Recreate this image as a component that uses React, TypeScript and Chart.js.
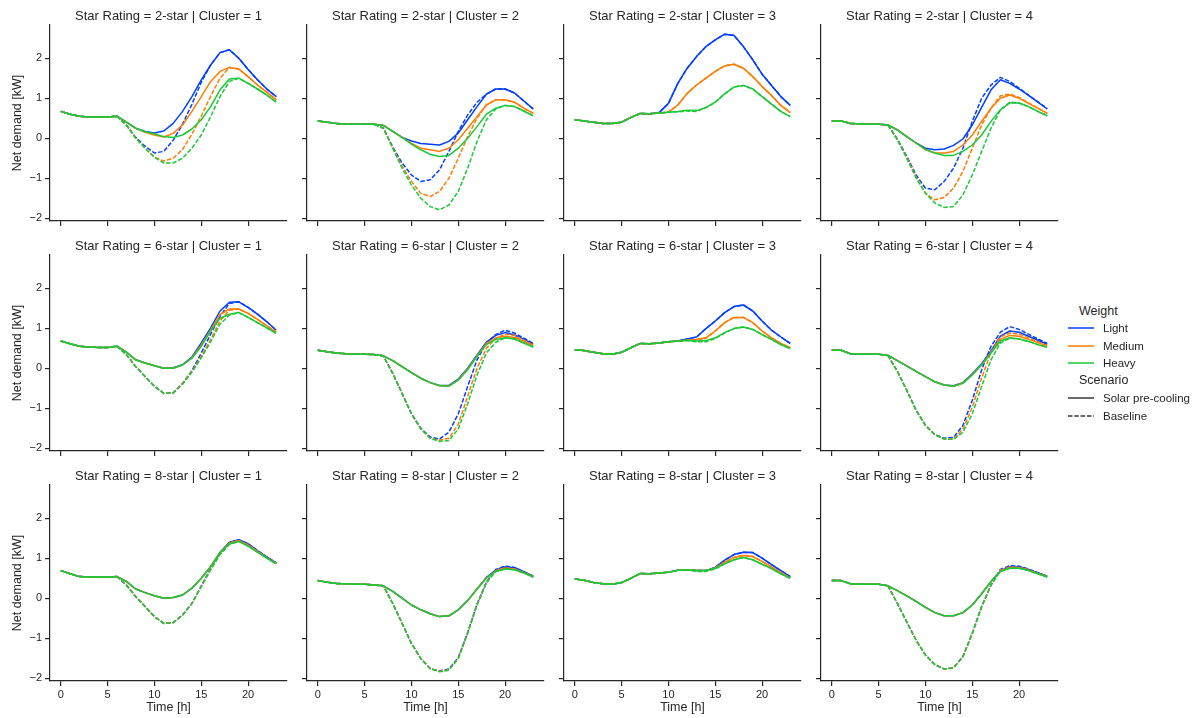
import React, { useEffect, useRef } from 'react';
import { Chart, registerables } from 'chart.js';

Chart.register(...registerables);

const FONT = "'Liberation Sans', Arial, Helvetica, sans-serif";
const TEXT = '#262626';
const AXIS = '#262626';

// ---------- data ----------
const hours = [0, 1, 2, 3, 4, 5, 6, 7, 8, 9, 10, 11, 12, 13, 14, 15, 16, 17, 18, 19, 20, 21, 22, 23];
const xTicks = [0, 5, 10, 15, 20];
const yTicks = [-2, -1, 0, 1, 2];
const weights = ['Light', 'Medium', 'Heavy'];
const weightColors = ['#023eff', '#ff7c00', '#1ac938'];
const scenarios = ['Solar pre-cooling', 'Baseline'];
const starRatings = ['2-star', '6-star', '8-star'];
const clusters = [1, 2, 3, 4];

// 2-star, cluster 1
const s2c1LightSolar = [0.67, 0.60, 0.55, 0.53, 0.53, 0.53, 0.55, 0.40, 0.25, 0.17, 0.13, 0.18, 0.37, 0.67, 1.04, 1.46, 1.83, 2.14, 2.21, 2.00, 1.72, 1.46, 1.23, 1.04];
const s2c1MediumSolar = [0.67, 0.60, 0.55, 0.53, 0.53, 0.53, 0.55, 0.40, 0.25, 0.15, 0.08, 0.03, 0.12, 0.33, 0.67, 1.04, 1.42, 1.67, 1.77, 1.73, 1.54, 1.33, 1.15, 0.96];
const s2c1HeavySolar = [0.67, 0.60, 0.55, 0.53, 0.53, 0.53, 0.55, 0.40, 0.25, 0.16, 0.11, 0.04, 0.02, 0.08, 0.23, 0.46, 0.79, 1.21, 1.48, 1.50, 1.37, 1.23, 1.08, 0.90];
const s2c1LightBase = [0.67, 0.60, 0.55, 0.53, 0.53, 0.53, 0.55, 0.33, 0.02, -0.20, -0.37, -0.33, -0.05, 0.35, 0.85, 1.40, 1.83, 2.14, 2.21, 2.00, 1.72, 1.46, 1.23, 1.04];
const s2c1MediumBase = [0.67, 0.60, 0.55, 0.53, 0.53, 0.53, 0.55, 0.33, 0.00, -0.25, -0.47, -0.57, -0.50, -0.28, 0.10, 0.55, 1.05, 1.50, 1.77, 1.73, 1.54, 1.33, 1.15, 0.96];
const s2c1HeavyBase = [0.67, 0.60, 0.55, 0.53, 0.53, 0.53, 0.55, 0.33, 0.00, -0.25, -0.48, -0.62, -0.62, -0.50, -0.25, 0.08, 0.54, 1.04, 1.42, 1.50, 1.37, 1.23, 1.08, 0.90];

// 2-star, cluster 2
const s2c2LightSolar = [0.43, 0.40, 0.37, 0.35, 0.35, 0.35, 0.35, 0.32, 0.17, 0.02, -0.07, -0.13, -0.15, -0.17, -0.08, 0.13, 0.46, 0.79, 1.10, 1.23, 1.23, 1.13, 0.93, 0.73];
const s2c2MediumSolar = [0.43, 0.40, 0.37, 0.35, 0.35, 0.35, 0.35, 0.32, 0.17, 0.02, -0.13, -0.25, -0.29, -0.33, -0.25, -0.04, 0.25, 0.54, 0.83, 0.96, 0.96, 0.90, 0.75, 0.62];
const s2c2HeavySolar = [0.43, 0.40, 0.37, 0.35, 0.35, 0.35, 0.35, 0.32, 0.17, 0.02, -0.15, -0.29, -0.40, -0.46, -0.43, -0.25, 0.00, 0.29, 0.60, 0.75, 0.82, 0.79, 0.68, 0.56];
const s2c2LightBase = [0.43, 0.40, 0.37, 0.35, 0.35, 0.35, 0.35, 0.25, -0.22, -0.62, -0.92, -1.08, -1.04, -0.79, -0.33, 0.17, 0.58, 0.90, 1.10, 1.23, 1.23, 1.13, 0.93, 0.73];
const s2c2MediumBase = [0.43, 0.40, 0.37, 0.35, 0.35, 0.35, 0.35, 0.25, -0.24, -0.70, -1.08, -1.38, -1.46, -1.33, -1.00, -0.50, 0.04, 0.50, 0.83, 0.96, 0.96, 0.90, 0.75, 0.62];
const s2c2HeavyBase = [0.43, 0.40, 0.37, 0.35, 0.35, 0.35, 0.35, 0.25, -0.25, -0.75, -1.17, -1.50, -1.71, -1.79, -1.67, -1.33, -0.75, -0.08, 0.46, 0.73, 0.82, 0.79, 0.68, 0.56];

// 2-star, cluster 3
const s2c3LightSolar = [0.46, 0.43, 0.40, 0.37, 0.37, 0.40, 0.52, 0.62, 0.61, 0.64, 0.87, 1.37, 1.75, 2.04, 2.29, 2.46, 2.60, 2.57, 2.29, 1.96, 1.60, 1.32, 1.04, 0.82];
const s2c3MediumSolar = [0.46, 0.43, 0.40, 0.37, 0.37, 0.40, 0.52, 0.62, 0.61, 0.63, 0.65, 0.83, 1.12, 1.33, 1.50, 1.67, 1.81, 1.85, 1.75, 1.54, 1.29, 1.07, 0.82, 0.64];
const s2c3HeavySolar = [0.46, 0.43, 0.40, 0.37, 0.37, 0.40, 0.52, 0.62, 0.61, 0.63, 0.65, 0.67, 0.70, 0.69, 0.77, 0.90, 1.11, 1.28, 1.32, 1.23, 1.04, 0.85, 0.67, 0.54];
const s2c3LightBase = [0.46, 0.43, 0.40, 0.37, 0.37, 0.40, 0.52, 0.62, 0.61, 0.64, 0.87, 1.37, 1.75, 2.04, 2.29, 2.46, 2.60, 2.57, 2.29, 1.96, 1.60, 1.32, 1.04, 0.82];
const s2c3MediumBase = [0.46, 0.43, 0.40, 0.37, 0.37, 0.40, 0.52, 0.62, 0.61, 0.63, 0.65, 0.83, 1.12, 1.33, 1.50, 1.67, 1.81, 1.85, 1.75, 1.54, 1.29, 1.07, 0.82, 0.64];
const s2c3HeavyBase = [0.46, 0.43, 0.40, 0.37, 0.37, 0.40, 0.52, 0.62, 0.61, 0.63, 0.65, 0.66, 0.68, 0.67, 0.76, 0.90, 1.11, 1.28, 1.32, 1.23, 1.04, 0.85, 0.67, 0.54];

// 2-star, cluster 4
const s2c4LightSolar = [0.43, 0.43, 0.37, 0.36, 0.35, 0.35, 0.33, 0.21, 0.04, -0.12, -0.25, -0.29, -0.27, -0.18, -0.02, 0.33, 0.77, 1.21, 1.46, 1.37, 1.23, 1.07, 0.90, 0.73];
const s2c4MediumSolar = [0.43, 0.43, 0.37, 0.36, 0.35, 0.35, 0.33, 0.21, 0.04, -0.12, -0.29, -0.37, -0.37, -0.33, -0.17, 0.08, 0.42, 0.75, 1.00, 1.08, 1.00, 0.87, 0.75, 0.62];
const s2c4HeavySolar = [0.43, 0.43, 0.37, 0.36, 0.35, 0.35, 0.33, 0.21, 0.04, -0.12, -0.28, -0.37, -0.43, -0.43, -0.33, -0.17, 0.08, 0.42, 0.71, 0.88, 0.88, 0.79, 0.67, 0.56];
const s2c4LightBase = [0.43, 0.43, 0.37, 0.36, 0.35, 0.35, 0.33, -0.02, -0.45, -0.92, -1.25, -1.29, -1.08, -0.75, -0.25, 0.42, 1.00, 1.33, 1.52, 1.42, 1.25, 1.08, 0.91, 0.74];
const s2c4MediumBase = [0.43, 0.43, 0.37, 0.36, 0.35, 0.35, 0.33, -0.03, -0.48, -0.97, -1.38, -1.54, -1.48, -1.25, -0.83, -0.25, 0.33, 0.75, 1.06, 1.10, 1.02, 0.88, 0.75, 0.62];
const s2c4HeavyBase = [0.43, 0.43, 0.37, 0.36, 0.35, 0.35, 0.33, -0.04, -0.50, -1.00, -1.37, -1.62, -1.73, -1.71, -1.42, -0.92, -0.33, 0.25, 0.71, 0.90, 0.88, 0.79, 0.67, 0.56];

// 6-star, cluster 1
const s6c1LightSolar = [0.68, 0.61, 0.55, 0.53, 0.52, 0.52, 0.55, 0.40, 0.21, 0.13, 0.06, 0.00, 0.01, 0.09, 0.28, 0.63, 1.01, 1.43, 1.65, 1.66, 1.52, 1.35, 1.16, 0.95];
const s6c1MediumSolar = [0.68, 0.61, 0.55, 0.53, 0.52, 0.52, 0.55, 0.40, 0.21, 0.13, 0.06, 0.00, 0.00, 0.08, 0.26, 0.58, 0.96, 1.34, 1.48, 1.48, 1.37, 1.22, 1.06, 0.90];
const s6c1HeavySolar = [0.68, 0.61, 0.55, 0.53, 0.52, 0.52, 0.55, 0.40, 0.21, 0.13, 0.06, 0.00, 0.00, 0.08, 0.25, 0.55, 0.93, 1.25, 1.35, 1.39, 1.27, 1.14, 1.01, 0.87];
const s6c1LightBase = [0.68, 0.61, 0.55, 0.53, 0.52, 0.52, 0.55, 0.34, 0.04, -0.21, -0.45, -0.63, -0.62, -0.38, -0.06, 0.38, 0.85, 1.30, 1.62, 1.66, 1.52, 1.35, 1.16, 0.95];
const s6c1MediumBase = [0.68, 0.61, 0.55, 0.53, 0.52, 0.52, 0.55, 0.34, 0.04, -0.21, -0.45, -0.63, -0.62, -0.38, -0.08, 0.30, 0.72, 1.18, 1.45, 1.48, 1.37, 1.22, 1.06, 0.90];
const s6c1HeavyBase = [0.68, 0.61, 0.55, 0.53, 0.52, 0.52, 0.55, 0.34, 0.04, -0.21, -0.45, -0.63, -0.62, -0.40, -0.10, 0.26, 0.66, 1.10, 1.33, 1.39, 1.27, 1.14, 1.01, 0.87];

// 6-star, cluster 2
const s6c2LightSolar = [0.45, 0.41, 0.38, 0.36, 0.35, 0.35, 0.34, 0.31, 0.19, 0.04, -0.11, -0.25, -0.36, -0.43, -0.43, -0.27, 0.00, 0.33, 0.65, 0.82, 0.89, 0.83, 0.72, 0.60];
const s6c2MediumSolar = [0.45, 0.41, 0.38, 0.36, 0.35, 0.35, 0.34, 0.31, 0.19, 0.04, -0.11, -0.25, -0.36, -0.44, -0.44, -0.29, -0.02, 0.31, 0.62, 0.76, 0.80, 0.77, 0.67, 0.56];
const s6c2HeavySolar = [0.45, 0.41, 0.38, 0.36, 0.35, 0.35, 0.34, 0.31, 0.19, 0.04, -0.11, -0.25, -0.36, -0.44, -0.45, -0.30, -0.04, 0.30, 0.59, 0.72, 0.76, 0.73, 0.63, 0.53];
const s6c2LightBase = [0.45, 0.41, 0.38, 0.36, 0.35, 0.35, 0.34, 0.31, -0.13, -0.63, -1.14, -1.50, -1.72, -1.77, -1.60, -1.14, -0.46, 0.21, 0.63, 0.84, 0.95, 0.88, 0.75, 0.62];
const s6c2MediumBase = [0.45, 0.41, 0.38, 0.36, 0.35, 0.35, 0.34, 0.31, -0.13, -0.63, -1.14, -1.52, -1.75, -1.80, -1.75, -1.40, -0.70, 0.00, 0.50, 0.75, 0.85, 0.82, 0.70, 0.58];
const s6c2HeavyBase = [0.45, 0.41, 0.38, 0.36, 0.35, 0.35, 0.34, 0.31, -0.13, -0.63, -1.14, -1.52, -1.75, -1.83, -1.81, -1.52, -0.89, -0.17, 0.38, 0.65, 0.76, 0.73, 0.63, 0.53];

// 6-star, cluster 3
const s6c3LightSolar = [0.46, 0.44, 0.40, 0.36, 0.35, 0.40, 0.51, 0.62, 0.61, 0.63, 0.66, 0.68, 0.73, 0.78, 0.99, 1.18, 1.39, 1.54, 1.58, 1.43, 1.18, 0.95, 0.78, 0.62];
const s6c3MediumSolar = [0.46, 0.44, 0.40, 0.36, 0.35, 0.40, 0.51, 0.62, 0.61, 0.63, 0.66, 0.68, 0.70, 0.72, 0.76, 0.93, 1.14, 1.27, 1.27, 1.14, 0.93, 0.76, 0.62, 0.51];
const s6c3HeavySolar = [0.46, 0.44, 0.40, 0.36, 0.35, 0.40, 0.51, 0.62, 0.61, 0.63, 0.66, 0.68, 0.70, 0.68, 0.69, 0.76, 0.89, 0.99, 1.03, 0.97, 0.84, 0.72, 0.59, 0.49];
const s6c3LightBase = [0.46, 0.44, 0.40, 0.36, 0.35, 0.40, 0.51, 0.62, 0.61, 0.63, 0.66, 0.68, 0.73, 0.78, 0.99, 1.18, 1.39, 1.54, 1.58, 1.43, 1.18, 0.95, 0.78, 0.62];
const s6c3MediumBase = [0.46, 0.44, 0.40, 0.36, 0.35, 0.40, 0.51, 0.62, 0.61, 0.63, 0.66, 0.68, 0.70, 0.71, 0.75, 0.93, 1.14, 1.27, 1.27, 1.14, 0.93, 0.76, 0.62, 0.51];
const s6c3HeavyBase = [0.46, 0.44, 0.40, 0.36, 0.35, 0.40, 0.51, 0.62, 0.61, 0.63, 0.66, 0.68, 0.69, 0.66, 0.66, 0.74, 0.88, 0.99, 1.03, 0.97, 0.84, 0.72, 0.59, 0.49];

// 6-star, cluster 4
const s6c4LightSolar = [0.45, 0.45, 0.36, 0.35, 0.35, 0.35, 0.32, 0.19, 0.06, -0.08, -0.21, -0.34, -0.42, -0.44, -0.36, -0.14, 0.11, 0.43, 0.80, 0.93, 0.90, 0.80, 0.70, 0.60];
const s6c4MediumSolar = [0.45, 0.45, 0.36, 0.35, 0.35, 0.35, 0.32, 0.19, 0.06, -0.08, -0.21, -0.34, -0.42, -0.45, -0.37, -0.16, 0.09, 0.40, 0.72, 0.82, 0.80, 0.72, 0.64, 0.55];
const s6c4HeavySolar = [0.45, 0.45, 0.36, 0.35, 0.35, 0.35, 0.32, 0.19, 0.06, -0.08, -0.21, -0.34, -0.42, -0.45, -0.38, -0.17, 0.08, 0.38, 0.68, 0.76, 0.73, 0.67, 0.59, 0.52];
const s6c4LightBase = [0.45, 0.45, 0.36, 0.35, 0.35, 0.35, 0.32, -0.08, -0.55, -1.05, -1.43, -1.66, -1.75, -1.73, -1.43, -0.80, -0.04, 0.55, 0.90, 1.04, 0.97, 0.85, 0.73, 0.62];
const s6c4MediumBase = [0.45, 0.45, 0.36, 0.35, 0.35, 0.35, 0.32, -0.08, -0.55, -1.05, -1.43, -1.66, -1.77, -1.77, -1.52, -0.98, -0.25, 0.40, 0.78, 0.88, 0.85, 0.76, 0.66, 0.57];
const s6c4HeavyBase = [0.45, 0.45, 0.36, 0.35, 0.35, 0.35, 0.32, -0.08, -0.55, -1.05, -1.43, -1.66, -1.77, -1.78, -1.60, -1.14, -0.46, 0.21, 0.63, 0.75, 0.73, 0.67, 0.59, 0.52];

// 8-star, cluster 1
const s8c1LightSolar = [0.69, 0.61, 0.54, 0.53, 0.53, 0.53, 0.54, 0.42, 0.23, 0.14, 0.06, 0.00, 0.02, 0.08, 0.25, 0.50, 0.79, 1.15, 1.40, 1.46, 1.36, 1.19, 1.03, 0.88];
const s8c1MediumSolar = [0.69, 0.61, 0.54, 0.53, 0.53, 0.53, 0.54, 0.42, 0.23, 0.14, 0.06, 0.00, 0.02, 0.08, 0.25, 0.50, 0.79, 1.14, 1.38, 1.44, 1.33, 1.17, 1.01, 0.87];
const s8c1HeavySolar = [0.69, 0.61, 0.54, 0.53, 0.53, 0.53, 0.54, 0.42, 0.23, 0.14, 0.06, 0.00, 0.02, 0.08, 0.25, 0.50, 0.79, 1.13, 1.36, 1.42, 1.30, 1.15, 1.00, 0.86];
const s8c1LightBase = [0.69, 0.61, 0.54, 0.53, 0.53, 0.53, 0.54, 0.33, 0.04, -0.21, -0.46, -0.63, -0.61, -0.42, -0.13, 0.31, 0.74, 1.12, 1.39, 1.46, 1.36, 1.19, 1.03, 0.88];
const s8c1MediumBase = [0.69, 0.61, 0.54, 0.53, 0.53, 0.53, 0.54, 0.33, 0.04, -0.21, -0.46, -0.63, -0.61, -0.42, -0.13, 0.30, 0.72, 1.10, 1.36, 1.44, 1.33, 1.17, 1.01, 0.87];
const s8c1HeavyBase = [0.69, 0.61, 0.54, 0.53, 0.53, 0.53, 0.54, 0.33, 0.04, -0.21, -0.46, -0.63, -0.61, -0.42, -0.13, 0.29, 0.71, 1.09, 1.34, 1.42, 1.30, 1.15, 1.00, 0.86];

// 8-star, cluster 2
const s8c2LightSolar = [0.44, 0.40, 0.37, 0.36, 0.35, 0.35, 0.33, 0.31, 0.17, 0.00, -0.17, -0.29, -0.39, -0.46, -0.44, -0.29, -0.06, 0.23, 0.52, 0.70, 0.78, 0.76, 0.66, 0.55];
const s8c2MediumSolar = [0.44, 0.40, 0.37, 0.36, 0.35, 0.35, 0.33, 0.31, 0.17, 0.00, -0.17, -0.29, -0.39, -0.46, -0.44, -0.29, -0.06, 0.23, 0.51, 0.68, 0.75, 0.73, 0.64, 0.54];
const s8c2HeavySolar = [0.44, 0.40, 0.37, 0.36, 0.35, 0.35, 0.33, 0.31, 0.17, 0.00, -0.17, -0.29, -0.39, -0.46, -0.44, -0.29, -0.06, 0.23, 0.50, 0.67, 0.73, 0.71, 0.63, 0.53];
const s8c2LightBase = [0.44, 0.40, 0.37, 0.36, 0.35, 0.35, 0.33, 0.31, -0.13, -0.63, -1.13, -1.51, -1.76, -1.82, -1.77, -1.48, -0.86, -0.15, 0.40, 0.72, 0.80, 0.77, 0.66, 0.55];
const s8c2MediumBase = [0.44, 0.40, 0.37, 0.36, 0.35, 0.35, 0.33, 0.31, -0.13, -0.63, -1.13, -1.51, -1.76, -1.83, -1.79, -1.50, -0.87, -0.16, 0.39, 0.69, 0.76, 0.73, 0.64, 0.54];
const s8c2HeavyBase = [0.44, 0.40, 0.37, 0.36, 0.35, 0.35, 0.33, 0.31, -0.13, -0.63, -1.13, -1.51, -1.76, -1.84, -1.80, -1.51, -0.88, -0.17, 0.38, 0.67, 0.73, 0.71, 0.63, 0.53];

// 8-star, cluster 3
const s8c3LightSolar = [0.48, 0.45, 0.39, 0.36, 0.35, 0.39, 0.50, 0.62, 0.61, 0.63, 0.65, 0.70, 0.71, 0.69, 0.69, 0.77, 0.95, 1.09, 1.15, 1.14, 1.00, 0.84, 0.69, 0.54];
const s8c3MediumSolar = [0.48, 0.45, 0.39, 0.36, 0.35, 0.39, 0.50, 0.62, 0.61, 0.63, 0.65, 0.70, 0.71, 0.69, 0.69, 0.76, 0.90, 1.02, 1.07, 1.04, 0.92, 0.78, 0.64, 0.51];
const s8c3HeavySolar = [0.48, 0.45, 0.39, 0.36, 0.35, 0.39, 0.50, 0.62, 0.61, 0.63, 0.65, 0.70, 0.71, 0.69, 0.69, 0.75, 0.86, 0.96, 1.02, 0.96, 0.85, 0.74, 0.61, 0.50];
const s8c3LightBase = [0.48, 0.45, 0.39, 0.36, 0.35, 0.39, 0.50, 0.62, 0.61, 0.63, 0.65, 0.70, 0.71, 0.69, 0.69, 0.77, 0.95, 1.09, 1.15, 1.14, 1.00, 0.84, 0.69, 0.54];
const s8c3MediumBase = [0.48, 0.45, 0.39, 0.36, 0.35, 0.39, 0.50, 0.62, 0.61, 0.63, 0.65, 0.70, 0.71, 0.68, 0.68, 0.75, 0.90, 1.02, 1.07, 1.04, 0.92, 0.78, 0.64, 0.51];
const s8c3HeavyBase = [0.48, 0.45, 0.39, 0.36, 0.35, 0.39, 0.50, 0.62, 0.61, 0.63, 0.65, 0.70, 0.71, 0.67, 0.67, 0.73, 0.86, 0.96, 1.02, 0.96, 0.85, 0.74, 0.61, 0.50];

// 8-star, cluster 4
const s8c4LightSolar = [0.44, 0.44, 0.36, 0.35, 0.35, 0.35, 0.31, 0.19, 0.06, -0.08, -0.23, -0.36, -0.44, -0.44, -0.36, -0.17, 0.11, 0.42, 0.68, 0.78, 0.78, 0.72, 0.63, 0.55];
const s8c4MediumSolar = [0.44, 0.44, 0.36, 0.35, 0.35, 0.35, 0.31, 0.19, 0.06, -0.08, -0.23, -0.36, -0.44, -0.44, -0.36, -0.17, 0.11, 0.42, 0.67, 0.76, 0.76, 0.70, 0.62, 0.54];
const s8c4HeavySolar = [0.44, 0.44, 0.36, 0.35, 0.35, 0.35, 0.31, 0.19, 0.06, -0.08, -0.23, -0.36, -0.44, -0.44, -0.36, -0.17, 0.11, 0.42, 0.67, 0.75, 0.75, 0.69, 0.61, 0.53];
const s8c4LightBase = [0.44, 0.44, 0.36, 0.35, 0.35, 0.35, 0.31, -0.13, -0.59, -1.05, -1.42, -1.66, -1.77, -1.74, -1.46, -0.88, -0.21, 0.33, 0.72, 0.81, 0.80, 0.73, 0.64, 0.55];
const s8c4MediumBase = [0.44, 0.44, 0.36, 0.35, 0.35, 0.35, 0.31, -0.13, -0.59, -1.05, -1.42, -1.66, -1.77, -1.74, -1.46, -0.88, -0.21, 0.33, 0.70, 0.78, 0.77, 0.71, 0.62, 0.54];
const s8c4HeavyBase = [0.44, 0.44, 0.36, 0.35, 0.35, 0.35, 0.31, -0.13, -0.59, -1.05, -1.42, -1.66, -1.77, -1.74, -1.46, -0.88, -0.21, 0.33, 0.67, 0.75, 0.75, 0.69, 0.61, 0.53];

// [row][col] -> [weight][scenario]
const panelSeries = [
  [
    [[s2c1LightSolar, s2c1LightBase], [s2c1MediumSolar, s2c1MediumBase], [s2c1HeavySolar, s2c1HeavyBase]],
    [[s2c2LightSolar, s2c2LightBase], [s2c2MediumSolar, s2c2MediumBase], [s2c2HeavySolar, s2c2HeavyBase]],
    [[s2c3LightSolar, s2c3LightBase], [s2c3MediumSolar, s2c3MediumBase], [s2c3HeavySolar, s2c3HeavyBase]],
    [[s2c4LightSolar, s2c4LightBase], [s2c4MediumSolar, s2c4MediumBase], [s2c4HeavySolar, s2c4HeavyBase]],
  ],
  [
    [[s6c1LightSolar, s6c1LightBase], [s6c1MediumSolar, s6c1MediumBase], [s6c1HeavySolar, s6c1HeavyBase]],
    [[s6c2LightSolar, s6c2LightBase], [s6c2MediumSolar, s6c2MediumBase], [s6c2HeavySolar, s6c2HeavyBase]],
    [[s6c3LightSolar, s6c3LightBase], [s6c3MediumSolar, s6c3MediumBase], [s6c3HeavySolar, s6c3HeavyBase]],
    [[s6c4LightSolar, s6c4LightBase], [s6c4MediumSolar, s6c4MediumBase], [s6c4HeavySolar, s6c4HeavyBase]],
  ],
  [
    [[s8c1LightSolar, s8c1LightBase], [s8c1MediumSolar, s8c1MediumBase], [s8c1HeavySolar, s8c1HeavyBase]],
    [[s8c2LightSolar, s8c2LightBase], [s8c2MediumSolar, s8c2MediumBase], [s8c2HeavySolar, s8c2HeavyBase]],
    [[s8c3LightSolar, s8c3LightBase], [s8c3MediumSolar, s8c3MediumBase], [s8c3HeavySolar, s8c3HeavyBase]],
    [[s8c4LightSolar, s8c4LightBase], [s8c4MediumSolar, s8c4MediumBase], [s8c4HeavySolar, s8c4HeavyBase]],
  ],
];

// ---------- layout ----------
const PLOT_W = 237;
const PLOT_H = 196;
const COL_X0 = 50;
const COL_STEP = 257;
const ROW_Y0 = 25;
const ROW_STEP = 230;
const Y_W = 50;
const T_H = 24;
const X_H = 36;
const R_PAD = 5;
const X_MIN = -1.15;
const X_MAX = 24.15;
const Y_MIN = -2.07;
const Y_MAX = 2.83;
const DASH = [4.5, 1.8];

function Panel({ row, col }: { row: number; col: number }) {
  const ref = useRef<HTMLCanvasElement>(null);
  const width = Y_W + PLOT_W + R_PAD;
  const height = T_H + PLOT_H + X_H;
  const left = COL_X0 + COL_STEP * col - Y_W;
  const top = ROW_Y0 + ROW_STEP * row - T_H;

  useEffect(() => {
    if (!ref.current) return;
    const showY = col === 0;
    const showX = row === 2;
    const series = panelSeries[row][col];
    const datasets: any[] = [];
    weights.forEach((w, wi) => {
      scenarios.forEach((sc, si) => {
        const vals = series[wi][si];
        datasets.push({
          label: `${w} - ${sc}`,
          data: hours.map((h, i) => ({ x: h, y: vals[i] })),
          borderColor: weightColors[wi],
          backgroundColor: weightColors[wi],
          borderWidth: 1.5,
          borderDash: si === 1 ? DASH : [],
          borderJoinStyle: 'round',
          pointRadius: 0,
          pointHoverRadius: 0,
          fill: false,
          tension: 0,
          order: 3 - wi,
        });
      });
    });

    const tickFont = { family: FONT, size: 11 };
    const chart = new Chart(ref.current, {
      type: 'line',
      data: { datasets },
      options: {
        animation: false,
        responsive: false,
        maintainAspectRatio: false,
        events: [],
        layout: { padding: { top: 0, right: R_PAD, bottom: 0, left: 0 } },
        plugins: {
          legend: { display: false },
          tooltip: { enabled: false },
          title: {
            display: true,
            text: `Star Rating = ${starRatings[row]} | Cluster = ${clusters[col]}`,
            fullSize: false,
            color: TEXT,
            font: { family: FONT, size: 13, weight: 'normal', lineHeight: 1.2 },
            padding: { top: 7.4, bottom: 1 },
          },
        },
        scales: {
          x: {
            type: 'linear',
            min: X_MIN,
            max: X_MAX,
            afterBuildTicks: (s: any) => {
              s.ticks = xTicks.map((v) => ({ value: v }));
            },
            afterFit: (s: any) => {
              s.height = X_H;
            },
            ticks: {
              display: showX,
              color: TEXT,
              font: tickFont,
              padding: 2,
              maxRotation: 0,
              autoSkip: false,
            },
            grid: {
              display: true,
              drawOnChartArea: false,
              drawTicks: true,
              tickLength: 5,
              color: AXIS,
              lineWidth: 1.2,
            },
            border: { display: true, color: AXIS, width: 1.2 },
            title: {
              display: showX,
              text: 'Time [h]',
              color: TEXT,
              font: { family: FONT, size: 12.5 },
              padding: { top: 0, bottom: 1.5 },
            },
          },
          y: {
            type: 'linear',
            min: Y_MIN,
            max: Y_MAX,
            afterBuildTicks: (s: any) => {
              s.ticks = yTicks.map((v) => ({ value: v }));
            },
            afterFit: (s: any) => {
              s.width = Y_W;
            },
            ticks: {
              display: showY,
              color: TEXT,
              font: tickFont,
              padding: 3,
              callback: (v: any) => (Number(v) < 0 ? '\u2212' + Math.abs(Number(v)) : String(v)),
            },
            grid: {
              display: true,
              drawOnChartArea: false,
              drawTicks: true,
              tickLength: 5,
              color: AXIS,
              lineWidth: 1.2,
            },
            border: { display: true, color: AXIS, width: 1.2 },
            title: {
              display: showY,
              text: 'Net demand [kW]',
              color: TEXT,
              font: { family: FONT, size: 12.5 },
              padding: { top: 10, bottom: 0 },
            },
          },
        },
      } as any,
    });
    return () => chart.destroy();
  }, [row, col]);

  return (
    <canvas
      ref={ref}
      width={width}
      height={height}
      style={{ position: 'absolute', left, top, width, height }}
    />
  );
}

function LegendLine({ color, dashed }: { color: string; dashed: boolean }) {
  return (
    <svg width={26} height={6} style={{ position: 'absolute', left: 1068, top: -3 }}>
      <line
        x1={0}
        y1={3}
        x2={26}
        y2={3}
        stroke={color}
        strokeWidth={1.5}
        strokeDasharray={dashed ? DASH.join(' ') : undefined}
      />
    </svg>
  );
}

function Legend() {
  const entry = (cy: number, label: string, color: string, dashed: boolean) => (
    <div key={label} style={{ position: 'absolute', left: 0, top: cy, width: 0, height: 0 }}>
      <LegendLine color={color} dashed={dashed} />
      <div
        style={{
          position: 'absolute',
          left: 1103,
          top: -8,
          height: 16,
          lineHeight: '16px',
          fontSize: 11.5,
          fontFamily: FONT,
          color: TEXT,
          whiteSpace: 'nowrap',
        }}
      >
        {label}
      </div>
    </div>
  );
  const header = (cy: number, label: string) => (
    <div
      key={label}
      style={{
        position: 'absolute',
        left: 1079,
        top: cy - 8,
        height: 16,
        lineHeight: '16px',
        fontSize: 12.5,
        fontFamily: FONT,
        color: TEXT,
        whiteSpace: 'nowrap',
      }}
    >
      {label}
    </div>
  );
  return (
    <>
      {header(311, 'Weight')}
      {entry(328, weights[0], weightColors[0], false)}
      {entry(345.5, weights[1], weightColors[1], false)}
      {entry(363, weights[2], weightColors[2], false)}
      {header(380, 'Scenario')}
      {entry(398, scenarios[0], '#3a3a3a', false)}
      {entry(416, scenarios[1], '#3a3a3a', true)}
    </>
  );
}

export default function App() {
  const cells: JSX.Element[] = [];
  for (let r = 0; r < 3; r++) {
    for (let c = 0; c < 4; c++) {
      cells.push(<Panel key={`${r}-${c}`} row={r} col={c} />);
    }
  }
  return (
    <div
      style={{
        position: 'absolute',
        left: 0,
        top: 0,
        width: 1200,
        height: 718,
        overflow: 'hidden',
        background: '#ffffff',
      }}
    >
      {cells}
      <Legend />
    </div>
  );
}
